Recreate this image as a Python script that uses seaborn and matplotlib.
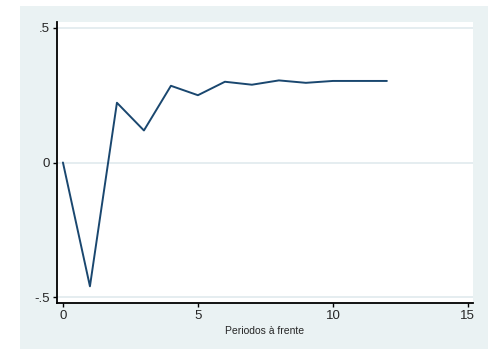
import numpy as np
import pandas as pd
import matplotlib
matplotlib.use('Agg')
import matplotlib.pyplot as plt
import seaborn as sns
from matplotlib.patches import Rectangle

# Impulse response values
periodos = [0, 1, 2, 3, 4, 5, 6, 7, 8, 9, 10, 11, 12]
resposta = [0.0, -0.46, 0.222, 0.119, 0.285, 0.25, 0.30, 0.289, 0.305, 0.296, 0.303, 0.303, 0.303]
x_ticks = [0, 5, 10, 15]
y_ticks = [-0.5, 0, 0.5]
y_tick_labels = ['-.5', '0', '.5']

df = pd.DataFrame({'periodo': periodos, 'resposta': resposta})

sns.set_style('white')
plt.rcParams['font.family'] = ['Liberation Sans', 'DejaVu Sans']

fig = plt.figure(figsize=(4.89, 3.49), dpi=100)
fig.patch.set_facecolor('white')
# light Stata-like outer panel, drawn behind the axes
fig.add_artist(Rectangle((20 / 489, 0), 1 - 20 / 489, 1 - 6 / 349,
                         transform=fig.transFigure, facecolor='#eaf2f3',
                         edgecolor='none', zorder=-10))

ax = fig.add_axes([57 / 489, 1 - 303 / 349, (473 - 57) / 489, (303 - 22) / 349])
ax.set_zorder(1)
ax.set_facecolor('white')

for yv in y_ticks:
    ax.axhline(yv, color='#e3ecef', lw=1.3, zorder=1)

sns.lineplot(data=df, x='periodo', y='resposta', ax=ax, color='#1a476f', lw=1.4, zorder=3)

ax.set_xlim(-0.22, 15.19)
ax.set_ylim(-0.522, 0.522)
ax.set_xticks(x_ticks)
ax.set_xticklabels([str(t) for t in x_ticks])
ax.set_yticks(y_ticks)
ax.set_yticklabels(y_tick_labels)
ax.tick_params(axis='both', direction='out', length=3, width=1, color='black',
               labelsize=9.5, pad=2, left=True, bottom=True)

for side in ['top', 'right']:
    ax.spines[side].set_visible(False)
for side in ['left', 'bottom']:
    ax.spines[side].set_color('black')
    ax.spines[side].set_linewidth(1.3)

ax.set_xlabel('Periodos à frente', fontsize=7.5, labelpad=3)
ax.set_ylabel('')

fig.savefig('out.png', dpi=100, facecolor=fig.get_facecolor())
